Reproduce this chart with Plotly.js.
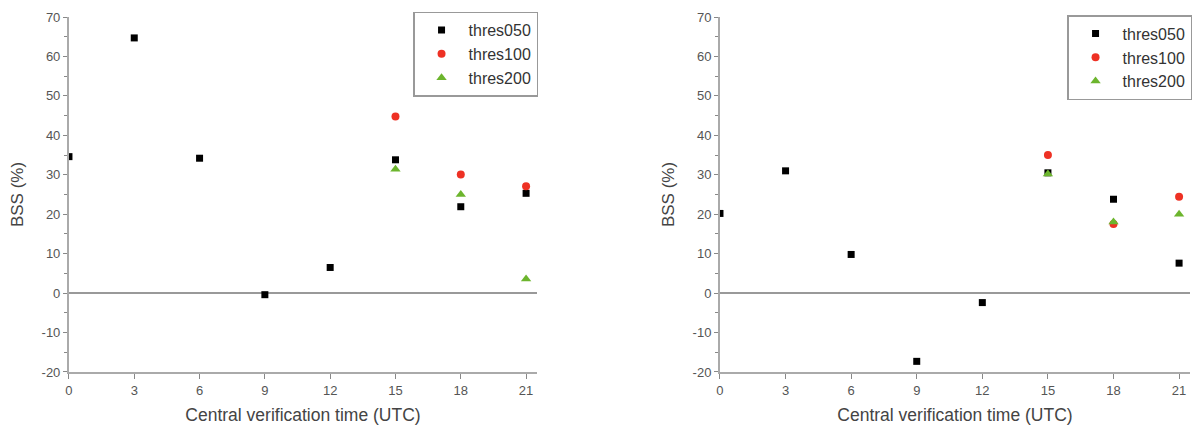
<!DOCTYPE html>
<html><head><meta charset="utf-8">
<script src="https://cdn.plot.ly/plotly-3.0.1.min.js"></script>
<style>html,body{margin:0;padding:0;background:#fff}#c{width:1193px;height:432px}</style>
</head><body><div id="c"></div>
<script>
const hours = [0, 3, 6, 9, 12, 15, 18, 21];
const seriesNames = ['thres050', 'thres100', 'thres200'];
// Left panel
const leftThres050 = [34.6, 64.7, 34.2, -0.4, 6.5, 33.8, 21.9, 25.3];
const leftThres100 = [null, null, null, null, null, 44.8, 30.1, 27.1];
const leftThres200 = [null, null, null, null, null, 31.4, 25.0, 3.6];
// Right panel
const rightThres050 = [20.2, 31.0, 9.8, -17.3, -2.4, 30.5, 23.8, 7.6];
const rightThres100 = [null, null, null, null, null, 35.0, 17.5, 24.4];
const rightThres200 = [null, null, null, null, null, 30.2, 18.0, 20.0];
const xTickVals = [0, 3, 6, 9, 12, 15, 18, 21];
const xTickText = ['0', '3', '6', '9', '12', '15', '18', '21'];
const yTickVals = [-20, -10, 0, 10, 20, 30, 40, 50, 60, 70];
const yTickText = ['-20', '-10', '0', '10', '20', '30', '40', '50', '60', '70'];

const markers = [
  {symbol: 'square', color: '#000000', size: 7},
  {symbol: 'circle', color: '#ee3124', size: 8},
  {symbol: 'triangle-up', color: '#6cb52d', size: 9}
];
function mk(vals, i, xa, ya, leg) {
  return {x: hours, y: vals, type: 'scatter', mode: 'markers', name: seriesNames[i],
    xaxis: xa, yaxis: ya, legend: leg,
    marker: {symbol: markers[i].symbol, color: markers[i].color, size: markers[i].size, line: {width: 0}}};
}
const traces = [
  mk(leftThres050, 0, 'x', 'y', 'legend'), mk(leftThres100, 1, 'x', 'y', 'legend'), mk(leftThres200, 2, 'x', 'y', 'legend'),
  mk(rightThres050, 0, 'x2', 'y2', 'legend2'), mk(rightThres100, 1, 'x2', 'y2', 'legend2'), mk(rightThres200, 2, 'x2', 'y2', 'legend2')
];

const FAM = 'Arial, Liberation Sans, sans-serif';
const axFont = {family: FAM, size: 13, color: '#555'};
function xax(dom, anchor) {
  return {domain: dom, anchor: anchor, range: [0, 21.5], tickvals: xTickVals, ticktext: xTickText, ticks: 'outside', ticklen: 5,
    tickcolor: '#888', tickwidth: 1, showline: true, linecolor: '#aaa', linewidth: 2, showgrid: false,
    zeroline: false, tickfont: axFont,
    title: {text: 'Central verification time (UTC)', font: {family: FAM, size: 17.5, color: '#444'}, standoff: 12}};
}
function yax(anchor) {
  return {domain: [0.1389, 0.9606], anchor: anchor, range: [-20, 70], tickvals: yTickVals, ticktext: yTickText, ticks: 'outside', ticklen: 4,
    tickcolor: '#888', tickwidth: 1, showline: true, linecolor: '#aaa', linewidth: 2, showgrid: false,
    zeroline: true, zerolinecolor: '#999', zerolinewidth: 1.5, tickfont: axFont,
    minor: {tickvals: [-15, -5, 5, 15, 25, 35, 45, 55, 65], ticks: 'outside', ticklen: 3, tickcolor: '#888', showgrid: false},
    title: {text: 'BSS (%)', font: {family: FAM, size: 17, color: '#444'}, standoff: 14}};
}
const legFont = {family: FAM, size: 16, color: '#333'};
const layout = {
  width: 1193, height: 432, margin: {l: 0, r: 0, t: 0, b: 0}, paper_bgcolor: '#fff', plot_bgcolor: '#fff',
  xaxis: xax([0.0578, 0.4501], 'y'), yaxis: yax('x'),
  xaxis2: xax([0.6035, 0.9975], 'y2'), yaxis2: yax('x2'),
  legend: {x: 0.451, y: 0.973, xanchor: 'right', yanchor: 'top', bordercolor: '#999', borderwidth: 1.5,
    bgcolor: '#fff', font: legFont, tracegroupgap: 0, itemwidth: 44},
  legend2: {x: 0.9992, y: 0.965, xanchor: 'right', yanchor: 'top', bordercolor: '#999', borderwidth: 1.5,
    bgcolor: '#fff', font: legFont, tracegroupgap: 0, itemwidth: 44},
  showlegend: true
};
Plotly.newPlot('c', traces, layout, {displayModeBar: false, staticPlot: true});
</script></body></html>
